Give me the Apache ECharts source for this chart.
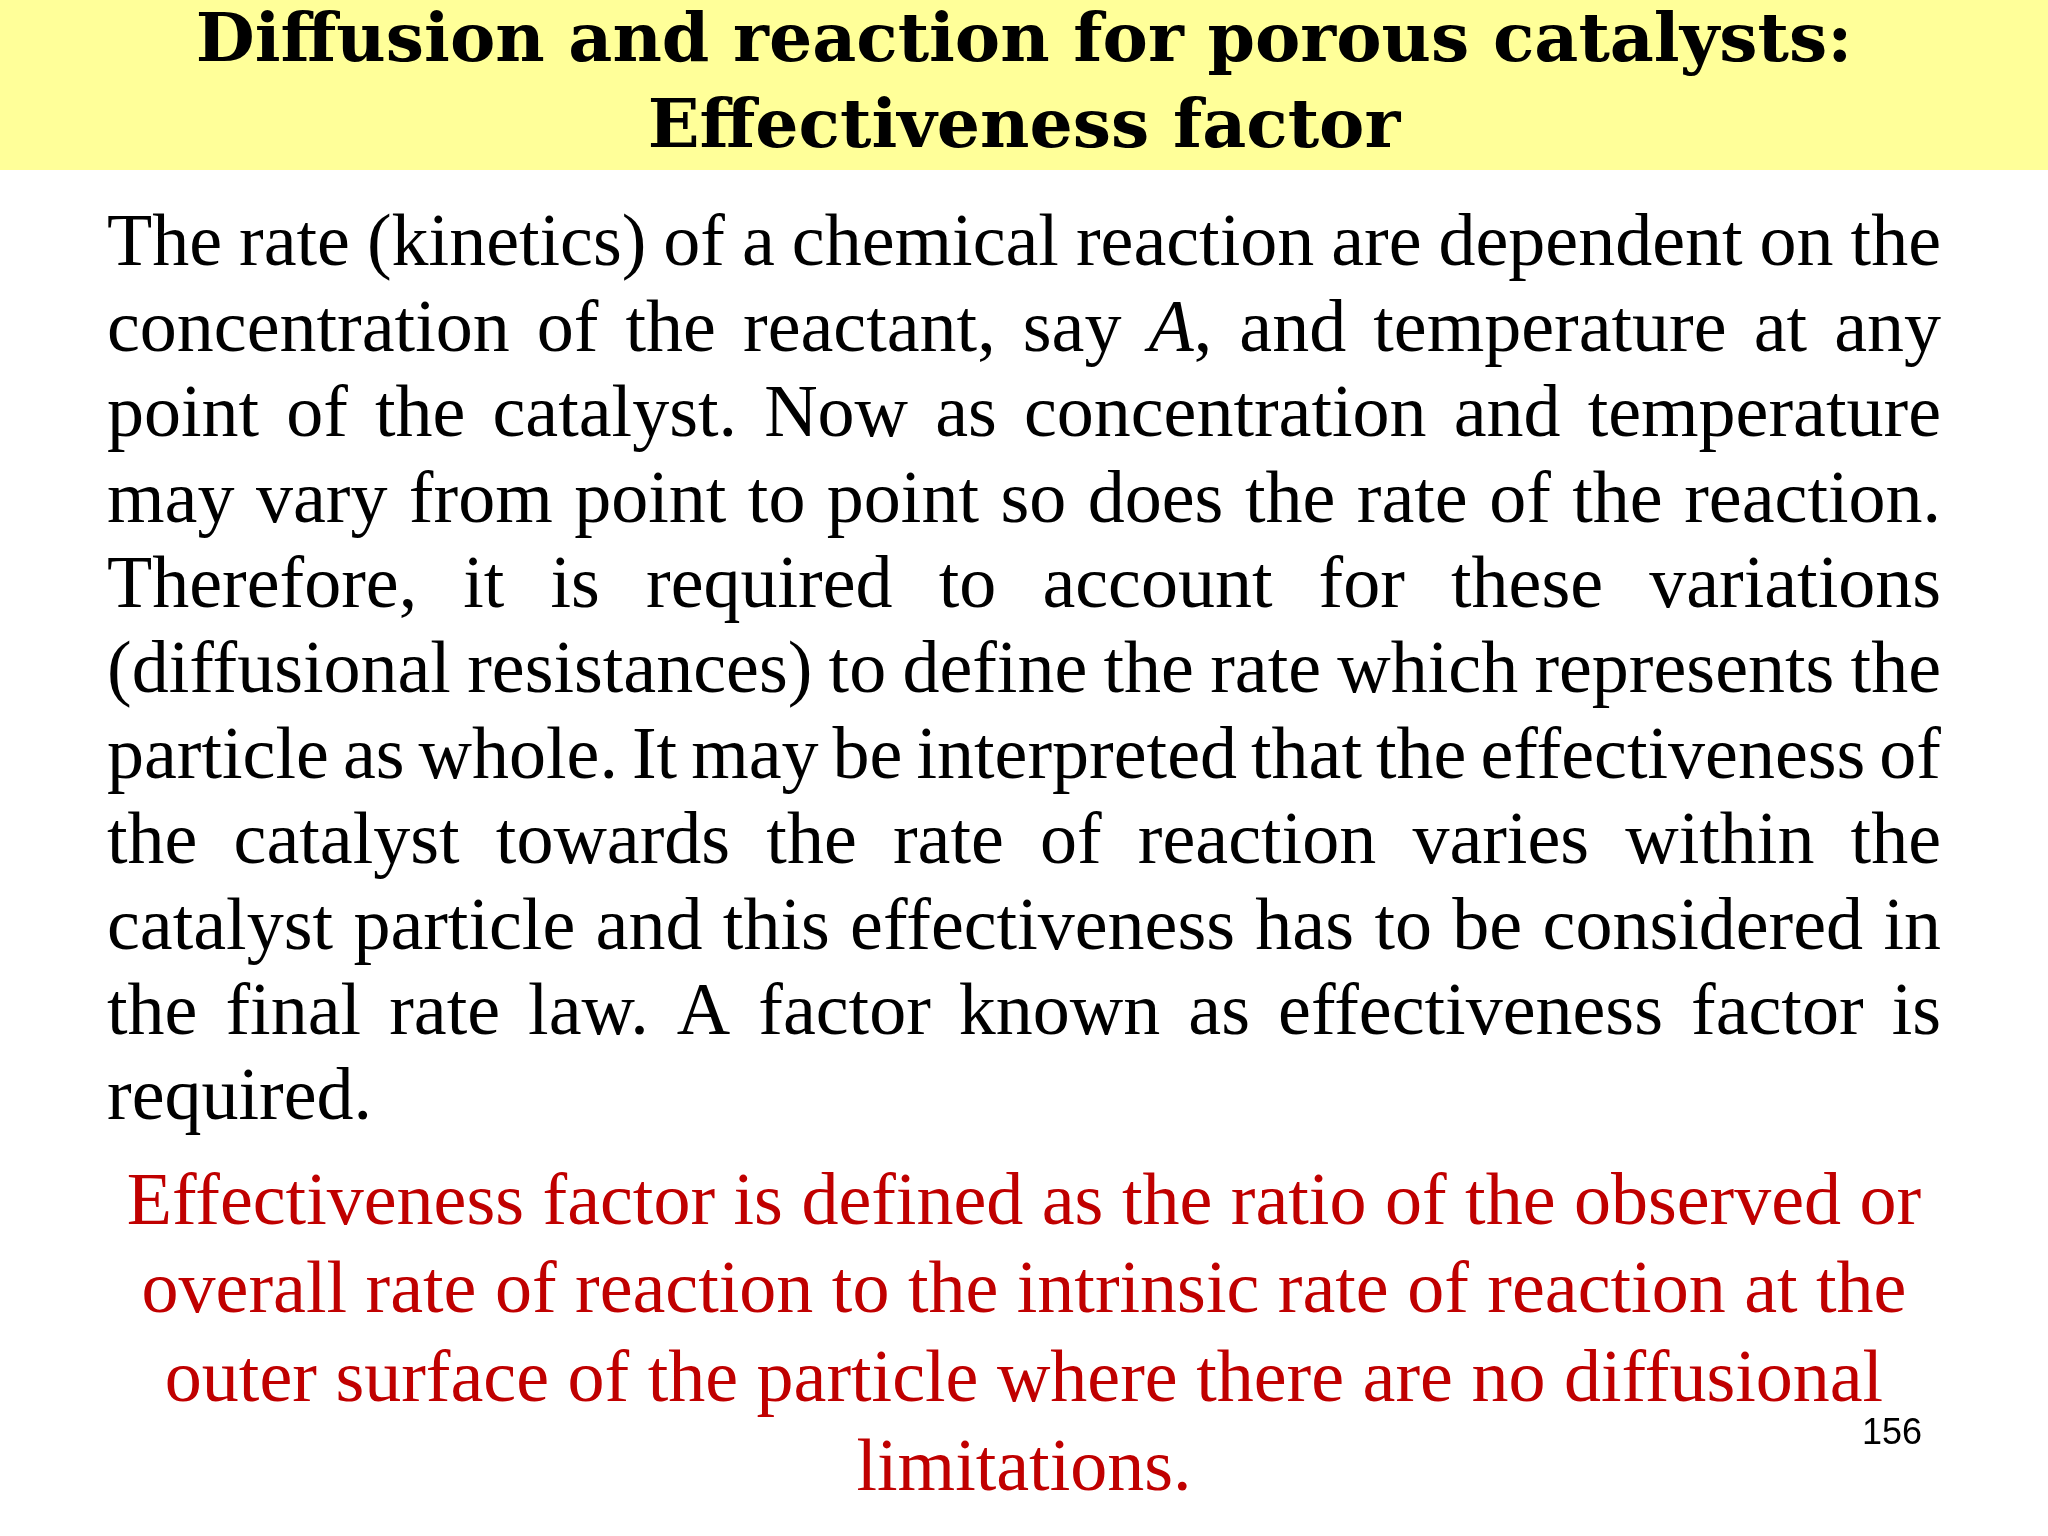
<!DOCTYPE html>
<html>
<head>
<meta charset="UTF-8"/>
<script src="https://cdn.jsdelivr.net/npm/echarts@6/dist/echarts.min.js"></script>
<style>html,body{margin:0;background:#fff}#slide{width:2048px;height:1536px}</style>
</head>
<body>
<div id="slide"></div>
<script>
var titleLines = ['Diffusion and reaction for porous catalysts:', 'Effectiveness factor'];
var bodyLines = [
    'The rate (kinetics) of a chemical reaction are dependent on the',
    'concentration of the reactant, say *A*, and temperature at any',
    'point of the catalyst. Now as concentration and temperature',
    'may vary from point to point so does the rate of the reaction.',
    'Therefore, it is required to account for these variations',
    '(diffusional resistances) to define the rate which represents the',
    'particle as whole. It may be interpreted that the effectiveness of',
    'the catalyst towards the rate of reaction varies within the',
    'catalyst particle and this effectiveness has to be considered in',
    'the final rate law. A factor known as effectiveness factor is',
    'required.'
];
var redLines = [
    'Effectiveness factor is defined as the ratio of the observed or',
    'overall rate of reaction to the intrinsic rate of reaction at the',
    'outer surface of the particle where there are no diffusional',
    'limitations.'
];
var pageNo = '156';

var bodyFont = '74px "Liberation Serif"';
var italicFont = 'italic 74px "Liberation Serif"';
var ctx = document.createElement('canvas').getContext('2d');
function w(txt, font) { ctx.font = font; return ctx.measureText(txt).width; }

var left = 107, right = 1941, top0 = 246, step = 85.4;
var graphic = [
    {type: 'rect', shape: {x: 0, y: 0, width: 2048, height: 170}, style: {fill: '#FFFF99'}}
];
titleLines.forEach(function (t, i) {
    graphic.push({type: 'text', x: 1024, y: 43 + i * 86, style: {
        text: t, font: 'bold 68px "DejaVu Serif"', fill: '#000', align: 'center', verticalAlign: 'middle'}});
});

bodyLines.forEach(function (line, i) {
    var y = top0 + i * step;
    var words = line.split(' ');
    var widths = words.map(function (wd) {
        if (wd.indexOf('*') >= 0) {
            var p = wd.split('*');
            return w(p[0], bodyFont) + w(p[1], italicFont) + w(p[2], bodyFont);
        }
        return w(wd, bodyFont);
    });
    var total = widths.reduce(function (a, b) { return a + b; }, 0);
    var last = i === bodyLines.length - 1;
    var gap = last ? w(' ', bodyFont) : (right - left - total) / (words.length - 1);
    var x = left;
    words.forEach(function (wd, k) {
        if (wd.indexOf('*') >= 0) {
            var p = wd.split('*');
            var xx = x;
            [[p[0], bodyFont], [p[1], italicFont], [p[2], bodyFont]].forEach(function (s) {
                if (s[0]) graphic.push({type: 'text', x: xx, y: y, style: {text: s[0], font: s[1], fill: '#000', verticalAlign: 'middle'}});
                xx += w(s[0], s[1]);
            });
        } else {
            graphic.push({type: 'text', x: x, y: y, style: {text: wd, font: bodyFont, fill: '#000', verticalAlign: 'middle'}});
        }
        x += widths[k] + gap;
    });
});

var redY = [1205, 1293, 1382, 1471];
redLines.forEach(function (t, i) {
    graphic.push({type: 'text', x: 1024, y: redY[i], style: {
        text: t, font: bodyFont, fill: '#C00000', align: 'center', verticalAlign: 'middle'}});
});
graphic.push({type: 'text', x: 1892, y: 1434, style: {
    text: pageNo, font: '36px "Liberation Sans"', fill: '#000', align: 'center', verticalAlign: 'middle'}});

var myChart = echarts.init(document.getElementById('slide'));
myChart.setOption({animation: false, graphic: graphic});
</script>
</body>
</html>
